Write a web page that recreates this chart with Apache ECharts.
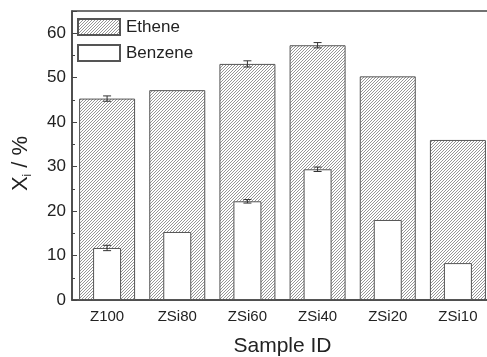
<!DOCTYPE html>
<html>
<head>
<meta charset="utf-8">
<script src="https://cdn.jsdelivr.net/npm/echarts@6/dist/echarts.min.js"></script>
<style>
  html, body { margin: 0; padding: 0; background: #fff; }
  #chart { width: 487px; height: 357px; }
</style>
</head>
<body>
<div id="chart"></div>
<script>
const categories = ["Z100", "ZSi80", "ZSi60", "ZSi40", "ZSi20", "ZSi10"]
const ethene = [45.3, 47.2, 53.1, 57.3, 50.3, 36.0]
const benzene = [11.7, 15.3, 22.2, 29.4, 18.0, 8.3]
// error half-widths, 0 = no bar drawn
const etheneErr = [0.6, 0, 0.7, 0.6, 0, 0]
const benzeneErr = [0.6, 0, 0.4, 0.5, 0, 0]

// diagonal "/" hatch for the ethene bars
function hatch() {
  const s = 3
  const c = document.createElement("canvas")
  c.width = s
  c.height = s
  const ctx = c.getContext("2d")
  ctx.fillStyle = "#fff"
  ctx.fillRect(0, 0, s, s)
  ctx.strokeStyle = "#8a8a8a"
  ctx.lineWidth = 0.9
  ctx.beginPath()
  ctx.moveTo(0, s); ctx.lineTo(s, 0)
  ctx.moveTo(-1, 1); ctx.lineTo(1, -1)
  ctx.moveTo(s - 1, s + 1); ctx.lineTo(s + 1, s - 1)
  ctx.stroke()
  return c
}

function errorSeries(values, errs, axisIndex) {
  return {
    type: "custom",
    xAxisIndex: axisIndex,
    z: 5,
    silent: true,
    data: values.map((v, i) => [i, v, errs[i]]),
    renderItem: (params, api) => {
      const e = api.value(2)
      if (!e) return null
      const x = api.value(0)
      const hi = api.coord([x, api.value(1) + e])
      const lo = api.coord([x, api.value(1) - e])
      const w = 4
      const style = { stroke: "#333", lineWidth: 1 }
      return {
        type: "group",
        children: [
          { type: "line", shape: { x1: hi[0], y1: hi[1], x2: lo[0], y2: lo[1] }, style },
          { type: "line", shape: { x1: hi[0] - w, y1: hi[1], x2: hi[0] + w, y2: hi[1] }, style },
          { type: "line", shape: { x1: lo[0] - w, y1: lo[1], x2: lo[0] + w, y2: lo[1] }, style },
        ],
      }
    },
  }
}

const font = "Arial, 'Liberation Sans', sans-serif"
const axisColor = "#444"

const chart = echarts.init(document.getElementById("chart"))
chart.setOption({
  backgroundColor: "#fff",
  animation: false,
  textStyle: { fontFamily: font },
  grid: {
    left: 72, width: 421, top: 11, height: 289,
    outerBoundsMode: "none",
    show: true, borderColor: axisColor, borderWidth: 1.5,
  },
  legend: {
    orient: "vertical",
    left: 77, top: 18, padding: 0,
    itemWidth: 42, itemHeight: 16, itemGap: 8,
    icon: "rect",
    textStyle: { fontSize: 17, color: "#222", fontFamily: font, padding: [0, 0, 0, 1] },
    data: ["Ethene", "Benzene"],
  },
  xAxis: [
    {
      type: "category", data: categories, position: "bottom",
      axisLine: { lineStyle: { color: axisColor, width: 1.5 } },
      axisTick: { alignWithLabel: true, inside: true, length: 5, lineStyle: { color: axisColor } },
      axisLabel: { fontSize: 15, color: "#222", margin: 9 },
      name: "Sample ID", nameLocation: "middle", nameGap: 36,
      nameTextStyle: { fontSize: 21, color: "#222" },
    },
    {
      type: "category", data: categories, position: "bottom",
      axisLine: { show: false },
      axisTick: { inside: true, length: 3, lineStyle: { color: axisColor } },
      axisLabel: { show: false },
    },
    {
      type: "category", data: categories, position: "top",
      axisLine: { show: false },
      axisTick: { alignWithLabel: true, inside: true, length: 5, lineStyle: { color: axisColor } },
      axisLabel: { show: false },
    },
    {
      type: "category", data: categories, position: "top",
      axisLine: { show: false },
      axisTick: { inside: true, length: 3, lineStyle: { color: axisColor } },
      axisLabel: { show: false },
    },
  ],
  yAxis: [
    {
      type: "value", min: 0, max: 65, interval: 10,
      axisLine: { show: true, lineStyle: { color: axisColor, width: 1.5 } },
      axisTick: { show: true, inside: true, length: 5, lineStyle: { color: axisColor } },
      splitLine: { show: false },
      axisLabel: {
        fontSize: 17, color: "#222", margin: 6,
        formatter: (v) => (v % 10 === 0 ? String(v) : ""),
      },
      name: "{a|X}{b|i}{a| / %}",
      nameLocation: "middle", nameGap: 38, nameRotate: 90,
      nameTextStyle: {
        padding: [0, 16, 0, 0],
        rich: {
          a: { fontSize: 22, color: "#222", fontFamily: font },
          b: { fontSize: 12, color: "#222", fontFamily: font, padding: [14, 0, 0, 0] },
        },
      },
    },
    {
      type: "value", min: 0, max: 65, interval: 5, position: "left",
      axisLine: { show: false },
      axisTick: { show: true, inside: true, length: 3, lineStyle: { color: axisColor } },
      splitLine: { show: false },
      axisLabel: { show: false },
    },
  ],
  series: [
    {
      name: "Ethene", type: "bar", xAxisIndex: 0, yAxisIndex: 0,
      data: ethene, barWidth: 56,
      itemStyle: {
        color: { image: hatch(), repeat: "repeat" },
        borderColor: "#555", borderWidth: 1,
      },
    },
    {
      name: "Benzene", type: "bar", xAxisIndex: 1, yAxisIndex: 0,
      data: benzene, barWidth: 28, z: 3,
      itemStyle: { color: "#fff", borderColor: "#555", borderWidth: 1 },
    },
    errorSeries(ethene, etheneErr, 0),
    errorSeries(benzene, benzeneErr, 1),
  ],
})
</script>
</body>
</html>
